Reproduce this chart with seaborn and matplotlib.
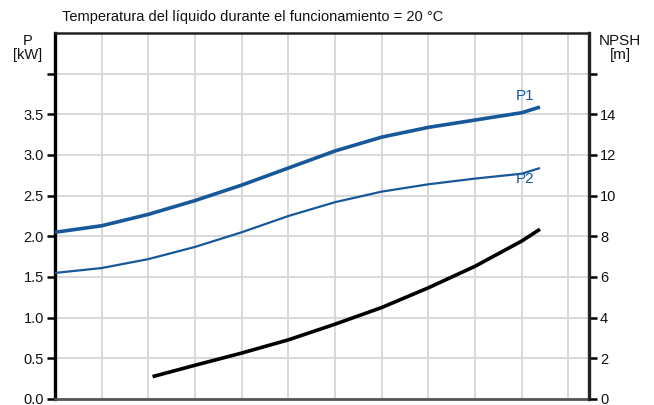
import matplotlib
matplotlib.use("Agg")
import matplotlib.pyplot as plt
import seaborn as sns
import pandas as pd
import numpy as np

# ---- data ----
flow = [0, 1, 2, 3, 4, 5, 6, 7, 8, 9, 10, 10.39]
p1_kw = [2.05, 2.13, 2.27, 2.44, 2.63, 2.84, 3.05, 3.22, 3.34, 3.43, 3.52, 3.59]
p2_kw = [1.55, 1.61, 1.72, 1.87, 2.05, 2.25, 2.42, 2.55, 2.64, 2.71, 2.77, 2.84]
npsh_flow = [2.09, 3, 4, 5, 6, 7, 8, 9, 10, 10.39]
npsh_m = [1.10, 1.66, 2.26, 2.91, 3.68, 4.50, 5.47, 6.53, 7.77, 8.35]

p_ticks = [0.0, 0.5, 1.0, 1.5, 2.0, 2.5, 3.0, 3.5, 4.0]
p_labels = ["0.0", "0.5", "1.0", "1.5", "2.0", "2.5", "3.0", "3.5", ""]
npsh_ticks = [0, 2, 4, 6, 8, 10, 12, 14, 16]
npsh_labels = ["0", "2", "4", "6", "8", "10", "12", "14", ""]
x_grid = [1, 2, 3, 4, 5, 6, 7, 8, 9, 10, 11]

title = "Temperatura del líquido durante el funcionamiento = 20 °C"

sns.set_theme(style="white")
plt.rcParams["font.family"] = ["Liberation Sans", "DejaVu Sans"]

blue = "#17589a"
grid_c = "#d3d5d8"
line_kw = dict(solid_joinstyle="round", solid_capstyle="butt")

fig = plt.figure(figsize=(6.54, 4.05), dpi=100)
ax = fig.add_axes([55 / 654, 1 - 399 / 405, (589 - 55) / 654, (399 - 33) / 405])

df_p = pd.DataFrame({"flow": flow, "P1": p1_kw, "P2": p2_kw})
sns.lineplot(data=df_p, x="flow", y="P1", ax=ax, color=blue, linewidth=2.6, zorder=3, **line_kw)
sns.lineplot(data=df_p, x="flow", y="P2", ax=ax, color=blue, linewidth=1.6, zorder=3, **line_kw)

ax.set_xlim(0, 11.44)
ax.set_ylim(0, 4.5)
ax.set_xticks(x_grid)
ax.set_xticklabels([])
ax.tick_params(axis="x", length=0)
ax.set_yticks(p_ticks)
ax.set_yticklabels(p_labels)
ax.tick_params(axis="y", direction="out", length=6, width=1.8, color="black",
               labelsize=10.5, pad=2, labelcolor="#111111")
ax.grid(True, color=grid_c, linewidth=1.3, zorder=0)
ax.set_axisbelow(True)
ax.set_xlabel("")
ax.set_ylabel("")

for side, spine in ax.spines.items():
    spine.set_visible(True)
ax.spines["left"].set_linewidth(2.4)
ax.spines["left"].set_color("black")
ax.spines["top"].set_linewidth(1.8)
ax.spines["top"].set_color("#222222")
ax.spines["bottom"].set_linewidth(2.0)
ax.spines["bottom"].set_color("#555555")
ax.spines["right"].set_visible(False)

ax2 = ax.twinx()
df_n = pd.DataFrame({"flow": npsh_flow, "NPSH": npsh_m})
sns.lineplot(data=df_n, x="flow", y="NPSH", ax=ax2, color="black", linewidth=2.6, zorder=3, **line_kw)
ax2.set_ylim(0, 18)
ax2.set_yticks(npsh_ticks)
ax2.set_yticklabels(npsh_labels)
ax2.tick_params(axis="y", direction="out", length=6, width=1.8, color="black",
                labelsize=10.5, pad=2, labelcolor="#111111")
ax2.set_ylabel("")
ax2.grid(False)
for side, spine in ax2.spines.items():
    spine.set_visible(False)
ax2.spines["right"].set_visible(True)
ax2.spines["right"].set_linewidth(2.4)
ax2.spines["right"].set_color("#222222")

ax.text(10.08, 3.72, "P1", color=blue, fontsize=11, ha="center", va="center")
ax.text(10.08, 2.70, "P2", color=blue, fontsize=11, ha="center", va="center")

fig.text(62 / 654, 1 - 17 / 405, title, fontsize=10.5, ha="left", va="center", color="#111111")
fig.text(28 / 654, 1 - 48 / 405, "P\n[kW]", fontsize=10.5, ha="center", va="center",
         linespacing=1.05, color="#111111")
fig.text(620 / 654, 1 - 48 / 405, "NPSH\n[m]", fontsize=11, ha="center", va="center",
         linespacing=1.05, color="#111111")

fig.savefig("out.png", dpi=100)
